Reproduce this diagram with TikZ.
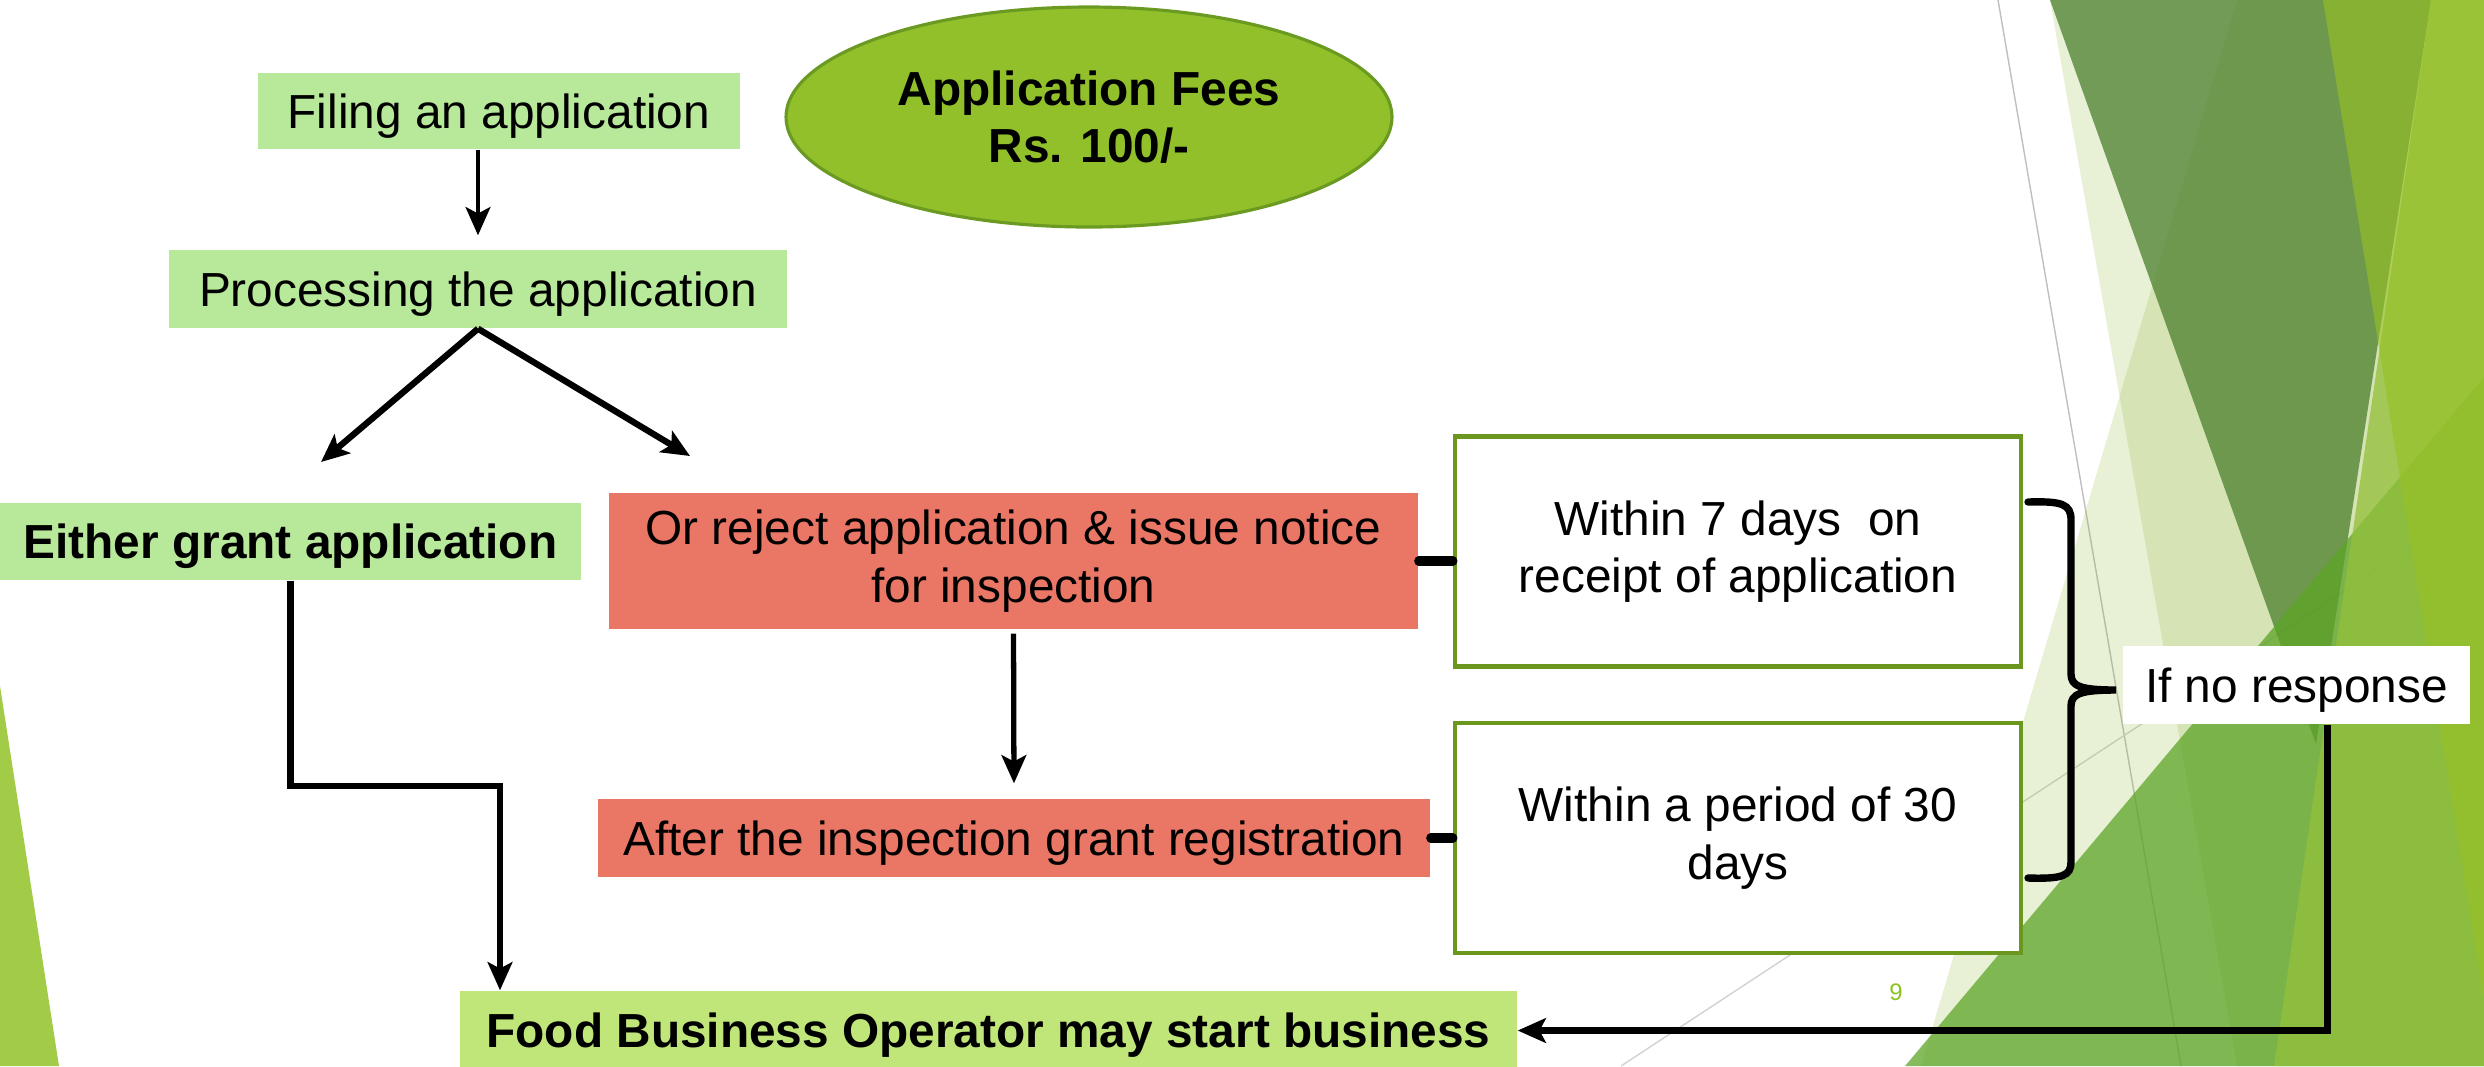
\documentclass[tikz,border=0pt]{standalone}
\usepackage{fontspec}
\setmainfont{Liberation Sans}
\usepackage{tikz}
\usetikzlibrary{arrows.meta,shapes.geometric}
\definecolor{boxgreen}{RGB}{184,232,154}
\definecolor{foodgreen}{RGB}{192,229,121}
\definecolor{rejectred}{RGB}{234,118,102}
\definecolor{feegreen}{RGB}{146,192,42}
\definecolor{feeborder}{RGB}{107,154,34}
\definecolor{frameolive}{RGB}{107,151,30}
\definecolor{pagegreen}{RGB}{140,194,30}
\definecolor{slivergreen}{RGB}{162,203,72}
\definecolor{facetpale}{RGB}{140,180,50}
\definecolor{facetdark}{RGB}{65,120,33}
\definecolor{facetgreen}{RGB}{93,164,39}
\definecolor{facetright}{RGB}{147,192,60}
\definecolor{facetlime}{RGB}{151,193,37}
\newcommand{\flowfont}{\fontsize{13.6}{16.3}\selectfont}
\begin{document}
\begin{tikzpicture}[x=0.1mm, y=-0.1mm, font=\flowfont,
    plainbox/.style={inner sep=0pt, text height=3.4mm, text depth=0pt},
    greenbox/.style={plainbox, fill=boxgreen},
    redbox/.style={fill=rejectred, inner sep=0pt},
    framebox/.style={draw=frameolive, line width=1.2pt, fill=white, align=center,
        minimum width=56.6mm, minimum height=23mm},
    arr/.style={-{Stealth[length=8pt, width=7pt, inset=1.8pt]}, line width=1.8pt},
    tie/.style={line width=2.6pt, line cap=round}]
    \useasboundingbox (0,0) rectangle (2484,1066);

    % background facets
    \fill[slivergreen] (0,686) -- (59,1066) -- (0,1066) -- cycle;
    \draw[gray!50, line width=0.4pt] (1998,0) -- (2181,1066);
    \draw[gray!35, line width=0.4pt] (1621,1066) -- (2484,499);
    \fill[facetpale, fill opacity=0.2] (2050,0) -- (2484,0) -- (2484,1066) -- (2237,1066) -- cycle;
    \fill[facetpale, fill opacity=0.2] (2237,0) -- (2484,0) -- (2484,1066) -- (1921,1066) -- cycle;
    \fill[facetdark, fill opacity=0.7] (2050,0) -- (2431,0) -- (2316,744) -- cycle;
    \fill[facetgreen, fill opacity=0.75] (1905,1066) -- (2484,377) -- (2484,1066) -- cycle;
    \fill[facetright, fill opacity=0.76] (2431,0) -- (2484,0) -- (2484,1066) -- (2274,1066) -- cycle;
    \fill[facetlime, fill opacity=0.63] (2323,0) -- (2484,0) -- (2484,1000) -- cycle;

    % boxes
    \node[greenbox, minimum width=48.2mm, minimum height=7.6mm] (filing) at (499,111) {Filing an application};
    \node[greenbox, minimum width=61.8mm, minimum height=7.8mm] (proc) at (478,289) {Processing the application};
    \node[ellipse, draw=feeborder, line width=0.9pt, fill=feegreen, align=center,
        font=\flowfont\bfseries, minimum width=60.6mm, minimum height=22mm] (fees) at (1089,117)
        {Application Fees\\Rs. 100/-};
    \node[greenbox, font=\flowfont\bfseries, minimum width=58.1mm, minimum height=7.7mm] (either) at (290.5,541.5) {Either grant application};
    \node[redbox, align=center, minimum width=80.9mm, minimum height=13.6mm] (reject) at (1013.5,561)
        {Or reject application \& issue notice\\for inspection};
    \node[redbox, plainbox, minimum width=83.2mm, minimum height=7.8mm] (grantreg) at (1014,838) {After the inspection grant registration};
    \node[framebox] (sevendays) at (1738,551.5) {Within 7 days\ \ on\\receipt of application};
    \node[framebox] (thirtydays) at (1738,838) {Within a period of 30\\days};
    \node[plainbox, fill=white, minimum width=34.7mm, minimum height=7.8mm] (noresp) at (2296.5,685) {If no response};
    \node[plainbox, fill=foodgreen, font=\flowfont\bfseries, minimum width=105.7mm, minimum height=7.9mm] (food) at (988.5,1030.5)
        {Food Business Operator may start business};
    \node[text=pagegreen, font=\fontsize{6.8}{8}\selectfont] (pagenum) at (1896,992) {9};

    % connectors
    \coordinate (leftend) at (321,462);
    \coordinate (rightend) at (690,456);
    \coordinate (elbow) at (500,786);
    \coordinate (bracetip) at (2116,690);
    \draw[arr, line width=1.4pt, shorten >=1.4mm] (proc.north |- filing.south) -- (proc.north);
    \draw[arr] (proc.south) -- (leftend);
    \draw[arr] (proc.south) -- (rightend);
    \draw[arr] (either.south) |- (elbow) -- (elbow |- food.north);
    \draw[arr, line width=1.5pt, shorten <=0.4mm, shorten >=1.5mm] (reject.south) -- (grantreg.north);
    \draw[tie] (reject.east) -- (reject.east -| sevendays.west);
    \draw[tie] (grantreg.east) -- (grantreg.east -| thirtydays.west);
    \draw[line width=2.1pt, line cap=round] (2028,502) .. controls (2062,501) and (2071,504) .. (2071,520)
        -- (2071,674) .. controls (2071,686) and (2080,690) .. (bracetip)
        .. controls (2080,690) and (2071,694) .. (2071,706)
        -- (2071,862) .. controls (2071,876) and (2062,879) .. (2028,878);
    \draw[arr, line width=2.1pt] ([xshift=3.1mm]noresp.south) |- (food.east);
\end{tikzpicture}
\end{document}
